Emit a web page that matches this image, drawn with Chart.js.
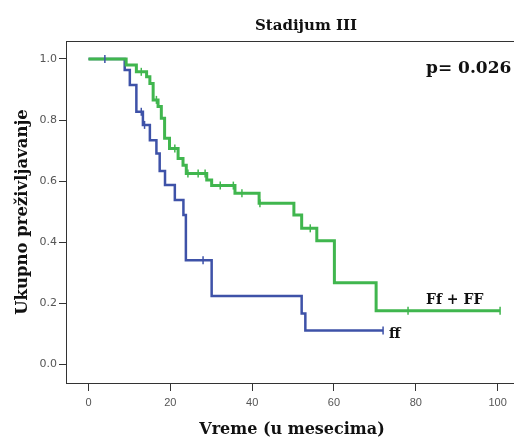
<!DOCTYPE html>
<html>
<head>
<meta charset="utf-8">
<script src="https://cdn.jsdelivr.net/npm/chart.js@4/dist/chart.umd.min.js"></script>
<style>
  html, body { margin: 0; padding: 0; background: #ffffff; }
  canvas { display: block; }
</style>
</head>
<body>
<canvas id="km" width="514" height="440"></canvas>
<script>
// Axis ticks
const xTickValues = [0, 20, 40, 60, 80, 100];
const yTickValues = [0.0, 0.2, 0.4, 0.6, 0.8, 1.0];

// Kaplan-Meier estimate, genotype ff (time in months, cumulative survival)
const ffTimes = [0, 8.85, 10.1, 11.7, 13.3, 15.0, 16.6, 17.4, 18.7, 21.1, 23.2, 23.8, 30.1, 52.1, 53.0, 72.0];
const ffSurvival = [1.0, 0.964, 0.915, 0.827, 0.784, 0.734, 0.69, 0.633, 0.587, 0.538, 0.489, 0.34, 0.223, 0.166, 0.11, 0.11];
const ffCensored = [4.0, 12.9, 13.7, 28.0, 72.0];

// Kaplan-Meier estimate, genotypes Ff + FF
const FfFFTimes = [0, 9.2, 11.7, 14.2, 15.0, 15.8, 17.0, 17.8, 18.6, 19.8, 21.9, 23.1, 23.9, 28.9, 30.1, 35.8, 41.7, 50.2, 52.1, 55.8, 60.1, 70.3, 100.6];
const FfFFSurvival = [1.0, 0.98, 0.958, 0.942, 0.92, 0.866, 0.844, 0.806, 0.74, 0.707, 0.674, 0.652, 0.625, 0.603, 0.585, 0.56, 0.527, 0.489, 0.445, 0.404, 0.267, 0.175, 0.175];
const FfFFCensored = [12.9, 16.6, 21.1, 24.3, 26.8, 28.5, 32.2, 35.4, 37.5, 41.9, 54.2, 78.1, 100.6];

const BLUE = 'rgb(62, 82, 168)';
const GREEN = 'rgb(64, 182, 78)';

// survival value of a step curve at time t
function stepValue(times, surv, t) {
  let v = surv[0];
  for (let i = 0; i < times.length; i++) {
    if (times[i] <= t) v = surv[i];
  }
  return v;
}
const curve = (times, surv) => times.map((t, i) => ({ x: t, y: surv[i] }));
const marks = (times, surv, cens) => cens.map(t => ({ x: t, y: stepValue(times, surv, t) }));

const SERIF = '"DejaVu Serif", "Liberation Serif", serif';
const SANS = '"Liberation Sans", Arial, sans-serif';

const annotations = {
  id: 'annotations',
  afterDraw(chart) {
    const { ctx, chartArea } = chart;
    ctx.save();
    // top edge of the plot frame
    ctx.strokeStyle = '#333';
    ctx.lineWidth = 1;
    ctx.beginPath();
    ctx.moveTo(chartArea.left, chartArea.top + 0.5);
    ctx.lineTo(chartArea.right, chartArea.top + 0.5);
    ctx.stroke();

    ctx.fillStyle = '#111';
    ctx.textBaseline = 'alphabetic';

    ctx.textAlign = 'center';
    ctx.font = 'bold 15px ' + SERIF;
    ctx.fillText('Stadijum III', 306, 30);

    ctx.font = 'bold 16px ' + SERIF;
    ctx.fillText('Vreme (u mesecima)', 292, 434);

    ctx.save();
    ctx.translate(27, 212);
    ctx.rotate(-Math.PI / 2);
    ctx.font = 'bold 16.5px ' + SERIF;
    ctx.fillText('Ukupno preživljavanje', 0, 0);
    ctx.restore();

    ctx.textAlign = 'left';
    ctx.font = 'bold 17px ' + SERIF;
    ctx.fillText('p= 0.026', 426, 73);

    ctx.font = 'bold 14px ' + SERIF;
    ctx.fillText('Ff + FF', 426, 304);
    ctx.fillText('ff', 389, 338);
    ctx.restore();
  }
};

new Chart(document.getElementById('km'), {
  type: 'line',
  data: {
    datasets: [
      {
        label: 'ff censored',
        data: marks(ffTimes, ffSurvival, ffCensored),
        showLine: false,
        pointStyle: 'line',
        rotation: 90,
        pointRadius: 4,
        borderColor: BLUE,
        backgroundColor: BLUE,
        pointBorderWidth: 1.5
      },
      {
        label: 'Ff + FF censored',
        data: marks(FfFFTimes, FfFFSurvival, FfFFCensored),
        showLine: false,
        pointStyle: 'line',
        rotation: 90,
        pointRadius: 4,
        borderColor: GREEN,
        backgroundColor: GREEN,
        pointBorderWidth: 1.5
      },
      {
        label: 'Ff + FF',
        data: curve(FfFFTimes, FfFFSurvival),
        stepped: 'before',
        borderColor: GREEN,
        borderWidth: 3,
        pointRadius: 0,
        fill: false
      },
      {
        label: 'ff',
        data: curve(ffTimes, ffSurvival),
        stepped: 'before',
        borderColor: BLUE,
        borderWidth: 2.5,
        pointRadius: 0,
        fill: false
      }
    ]
  },
  options: {
    responsive: false,
    animation: false,
    events: [],
    layout: { autoPadding: false, padding: { top: 41, left: 0, right: 0, bottom: 0 } },
    plugins: { legend: { display: false }, tooltip: { enabled: false }, title: { display: false } },
    scales: {
      x: {
        type: 'linear',
        min: -5.5,
        max: 104,
        afterBuildTicks: s => { s.ticks = xTickValues.map(v => ({ value: v })); },
        afterFit: s => { s.height = 57; s.paddingLeft = 0; s.paddingRight = 0; },
        grid: { drawOnChartArea: false, drawTicks: true, tickLength: 8, color: '#333', lineWidth: 1 },
        border: { display: true, color: '#333', width: 1 },
        ticks: { font: { family: SANS, size: 11 }, color: '#555', padding: 5, maxRotation: 0, autoSkip: false }
      },
      y: {
        type: 'linear',
        min: -0.062,
        max: 1.059,
        afterBuildTicks: s => { s.ticks = yTickValues.map(v => ({ value: v })); },
        afterFit: s => { s.width = 66; s.paddingTop = 0; s.paddingBottom = 0; },
        grid: { drawOnChartArea: false, drawTicks: true, tickLength: 7, color: '#333', lineWidth: 1 },
        border: { display: true, color: '#333', width: 1 },
        ticks: { font: { family: '"DejaVu Sans", sans-serif', size: 11 }, color: '#555', padding: 2, callback: v => v.toFixed(1), autoSkip: false }
      }
    }
  },
  plugins: [annotations]
});
</script>
</body>
</html>
